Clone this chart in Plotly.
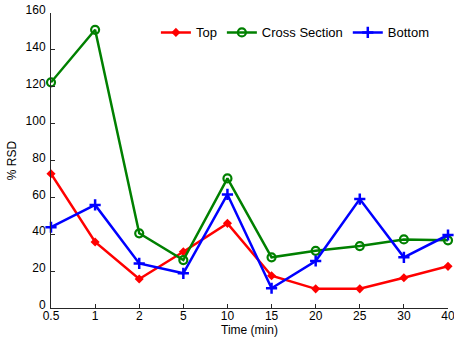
import plotly.graph_objects as go

times = ["0.5", "1", "2", "5", "10", "15", "20", "25", "30", "40"]
top = [72.8, 35.8, 15.7, 30.5, 45.9, 17.5, 10.4, 10.4, 16.4, 22.6]
cross_section = [122.4, 150.9, 40.5, 26.0, 70.3, 27.5, 31.0, 33.6, 37.2, 36.7]
bottom = [43.8, 55.9, 24.2, 18.8, 61.6, 10.7, 25.5, 59.1, 27.5, 39.6]
y_ticks = [0, 20, 40, 60, 80, 100, 120, 140, 160]

fig = go.Figure()
fig.add_trace(go.Scatter(
    x=times, y=top, name="Top", mode="lines+markers",
    line=dict(color="#ff0000", width=2.5),
    marker=dict(symbol="diamond", size=7, color="#ff0000"),
    cliponaxis=False,
))
fig.add_trace(go.Scatter(
    x=times, y=cross_section, name="Cross Section", mode="lines+markers",
    line=dict(color="#008000", width=2.5),
    marker=dict(symbol="circle-open", size=8, color="#008000", line=dict(width=2.2)),
    cliponaxis=False,
))
fig.add_trace(go.Scatter(
    x=times, y=bottom, name="Bottom", mode="lines+markers",
    line=dict(color="#0000ff", width=2.5),
    marker=dict(symbol="cross-thin-open", size=8, color="#0000ff", line=dict(width=2.5, color="#0000ff")),
    cliponaxis=False,
))

axis_style = dict(
    showline=True, linecolor="#262626", linewidth=1,
    ticks="inside", ticklen=4, tickcolor="#262626",
    showgrid=False, zeroline=False, mirror=False,
    automargin=False,
    tickfont=dict(size=12, color="#000000"),
)

fig.update_layout(
    width=454, height=339,
    margin=dict(l=51, r=6, t=13, b=31),
    paper_bgcolor="white", plot_bgcolor="white",
    font=dict(family="Liberation Sans, Arial, sans-serif", size=12, color="#000000"),
    showlegend=True,
    legend=dict(
        orientation="h", x=0.967, xanchor="right", y=0.985, yanchor="top",
        bgcolor="rgba(255,255,255,0)", font=dict(size=13),
        itemwidth=30, tracegroupgap=0,
    ),
    xaxis=dict(
        type="category", categoryorder="array", categoryarray=times,
        range=[0, len(times) - 1],
        ticklabelstandoff=-3,
        **axis_style,
    ),
    yaxis=dict(
        range=[0, 160], tickvals=y_ticks,
        ticklabelstandoff=2, ticklabelshift=-3,
        title=dict(text="% RSD", standoff=6, font=dict(size=12)),
        **axis_style,
    ),
    annotations=[dict(
        text="Time (min)", xref="paper", yref="paper", x=0.5, y=0,
        xanchor="center", yanchor="bottom", yshift=-31, showarrow=False,
        font=dict(size=12, color="#000000"),
    )],
)

fig.write_html("out.html")
